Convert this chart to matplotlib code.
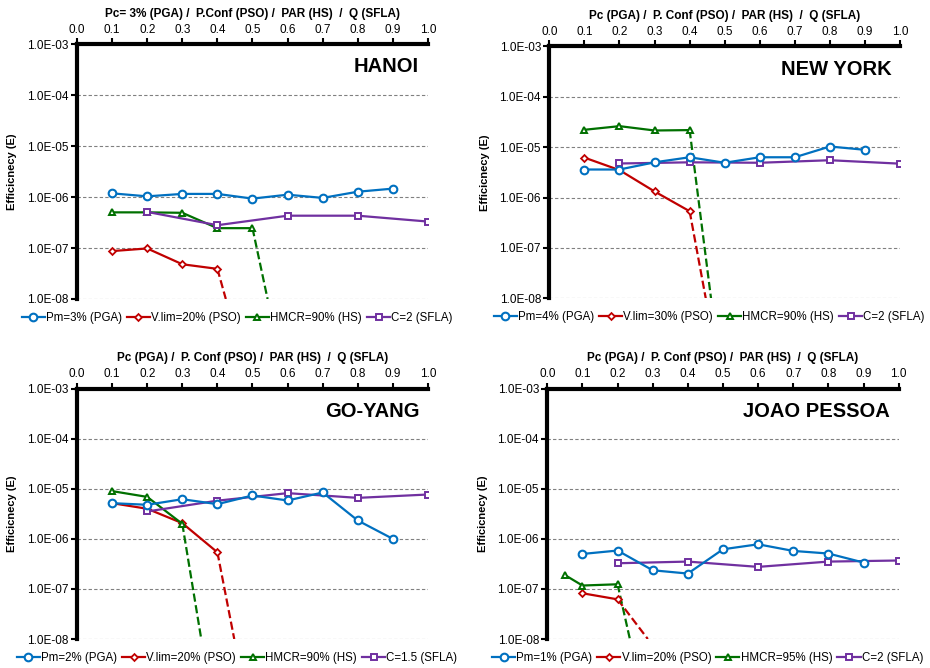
import numpy as np
import matplotlib
matplotlib.use('Agg')
import matplotlib.pyplot as plt
from matplotlib.ticker import NullLocator

plt.rcParams['font.family'] = ['Liberation Sans', 'DejaVu Sans']

# ==========================================
# Data
# ==========================================
x_pga = [0.1, 0.2, 0.3, 0.4, 0.5, 0.6, 0.7, 0.8, 0.9]
x_sfla = [0.2, 0.4, 0.6, 0.8, 1.0]

# HANOI
hanoi_pga = [1.18e-6, 1.03e-6, 1.15e-6, 1.15e-6, 0.93e-6, 1.11e-6, 0.96e-6, 1.27e-6, 1.46e-6]
hanoi_pso_x = [0.1, 0.2, 0.3, 0.4]
hanoi_pso = [0.87e-7, 0.98e-7, 0.48e-7, 0.39e-7]
hanoi_pso_drop = 0.424
hanoi_hs_x = [0.1, 0.2, 0.3, 0.4, 0.5]
hanoi_hs = [0.50e-6, 0.50e-6, 0.49e-6, 0.245e-6, 0.245e-6]
hanoi_hs_drop = 0.543
hanoi_sfla = [0.51e-6, 0.28e-6, 0.43e-6, 0.43e-6, 0.33e-6]

# NEW YORK
ny_pga = [0.36e-5, 0.36e-5, 0.50e-5, 0.63e-5, 0.49e-5, 0.63e-5, 0.63e-5, 1.03e-5, 0.885e-5]
ny_pso_x = [0.1, 0.2, 0.3, 0.4]
ny_pso = [0.62e-5, 0.35e-5, 1.32e-6, 0.535e-6]
ny_pso_drop = 0.446
ny_hs_x = [0.1, 0.2, 0.3, 0.4]
ny_hs = [0.221e-4, 0.261e-4, 0.214e-4, 0.218e-4]
ny_hs_drop = 0.461
ny_sfla = [0.474e-5, 0.50e-5, 0.49e-5, 0.55e-5, 0.47e-5]

# GO-YANG
gy_pga = [0.517e-5, 0.48e-5, 0.62e-5, 0.494e-5, 0.736e-5, 0.585e-5, 0.845e-5, 0.233e-5, 1.0e-6]
gy_pso_x = [0.1, 0.2, 0.3, 0.4]
gy_pso = [0.517e-5, 0.40e-5, 2.06e-6, 0.54e-6]
gy_pso_drop = 0.448
gy_hs_x = [0.1, 0.2, 0.3]
gy_hs = [0.90e-5, 0.69e-5, 2.0e-6]
gy_hs_drop = 0.354
gy_sfla = [0.353e-5, 0.58e-5, 0.82e-5, 0.66e-5, 0.77e-5]

# JOAO PESSOA
jp_pga = [0.50e-6, 0.585e-6, 0.236e-6, 0.203e-6, 0.62e-6, 0.78e-6, 0.575e-6, 0.51e-6, 0.337e-6]
jp_pso_x = [0.1, 0.2]
jp_pso = [0.82e-7, 0.62e-7]
jp_pso_drop = 0.286
jp_hs_x = [0.05, 0.1, 0.2]
jp_hs = [1.9e-7, 1.17e-7, 1.24e-7]
jp_hs_drop = 0.235
jp_sfla = [0.326e-6, 0.352e-6, 0.276e-6, 0.352e-6, 0.37e-6]

x_ticks = [0.0, 0.1, 0.2, 0.3, 0.4, 0.5, 0.6, 0.7, 0.8, 0.9, 1.0]
y_ticks = [1e-8, 1e-7, 1e-6, 1e-5, 1e-4, 1e-3]
y_ticklabels = ['1.0E-08', '1.0E-07', '1.0E-06', '1.0E-05', '1.0E-04', '1.0E-03']

C_PGA = '#0070C0'
C_PSO = '#C00000'
C_HS = '#007000'
C_SFLA = '#7030A0'


def draw_panel(ax, name, top_label, pga, pso_x, pso, pso_drop, hs_x, hs, hs_drop, sfla, labels):
    ax.set_yscale('log')
    ax.plot(x_pga, pga, '-o', color=C_PGA, lw=1.6, ms=5.5, mfc='white', mew=1.5, label=labels[0], zorder=5)
    ax.plot(pso_x, pso, '-D', color=C_PSO, lw=1.6, ms=3.5, mfc='white', mew=1.3, label=labels[1], zorder=4)
    ax.plot([pso_x[-1], pso_drop], [pso[-1], 1e-8], '--', color=C_PSO, lw=1.6, zorder=3)
    ax.plot(hs_x, hs, '-^', color=C_HS, lw=1.6, ms=5, mfc='white', mew=1.4, label=labels[2], zorder=4)
    ax.plot([hs_x[-1], hs_drop], [hs[-1], 1e-8], '--', color=C_HS, lw=1.6, zorder=3)
    ax.plot(x_sfla, sfla, '-s', color=C_SFLA, lw=1.6, ms=5, mfc='white', mew=1.4, label=labels[3], zorder=4)

    ax.set_xlim(0, 1)
    ax.set_ylim(1e-8, 1e-3)
    ax.xaxis.tick_top()
    ax.xaxis.set_label_position('top')
    ax.set_xticks(x_ticks)
    ax.set_xticklabels(['%.1f' % v for v in x_ticks], fontsize=8.5)
    ax.set_yticks(y_ticks)
    ax.set_yticklabels(y_ticklabels, fontsize=8.5)
    ax.yaxis.set_minor_locator(NullLocator())
    ax.tick_params(axis='both', length=4, width=1.5, pad=2)
    ax.set_xlabel(top_label, fontsize=8.5, fontweight='bold', labelpad=5)
    ax.set_ylabel('Efficicnecy (E)', fontsize=8, fontweight='bold', labelpad=7)

    for s in ['right', 'bottom']:
        ax.spines[s].set_visible(False)
    for s in ['left', 'top']:
        ax.spines[s].set_linewidth(3)
    ax.yaxis.grid(True, ls=(0, (3, 2)), color='#808080', lw=0.8)
    ax.set_axisbelow(True)

    ax.text(0.975, 0.91, name, transform=ax.transAxes, ha='right', va='center',
            fontsize=14.5, fontweight='bold')
    ax.legend(loc='center', bbox_to_anchor=(0.456, -0.075), ncol=4, frameon=False,
              fontsize=8.3, handlelength=2.0, handletextpad=0.1, columnspacing=0.45,
              borderaxespad=0, borderpad=0)


fig = plt.figure(figsize=(9.3, 6.68), dpi=100)
ax1 = fig.add_axes([0.0828, 0.5524, 0.3774, 0.3817])
ax2 = fig.add_axes([0.5907, 0.5534, 0.3771, 0.3772])
ax3 = fig.add_axes([0.0828, 0.0434, 0.3774, 0.3747])
ax4 = fig.add_axes([0.5885, 0.0434, 0.3778, 0.3747])

draw_panel(ax1, 'HANOI', 'Pc= 3% (PGA) /  P.Conf (PSO) /  PAR (HS)  /  Q (SFLA)',
           hanoi_pga, hanoi_pso_x, hanoi_pso, hanoi_pso_drop, hanoi_hs_x, hanoi_hs, hanoi_hs_drop, hanoi_sfla,
           ['Pm=3% (PGA)', 'V.lim=20% (PSO)', 'HMCR=90% (HS)', 'C=2 (SFLA)'])
draw_panel(ax2, 'NEW YORK', 'Pc (PGA) /  P. Conf (PSO) /  PAR (HS)  /  Q (SFLA)',
           ny_pga, ny_pso_x, ny_pso, ny_pso_drop, ny_hs_x, ny_hs, ny_hs_drop, ny_sfla,
           ['Pm=4% (PGA)', 'V.lim=30% (PSO)', 'HMCR=90% (HS)', 'C=2 (SFLA)'])
draw_panel(ax3, 'GO-YANG', 'Pc (PGA) /  P. Conf (PSO) /  PAR (HS)  /  Q (SFLA)',
           gy_pga, gy_pso_x, gy_pso, gy_pso_drop, gy_hs_x, gy_hs, gy_hs_drop, gy_sfla,
           ['Pm=2% (PGA)', 'V.lim=20% (PSO)', 'HMCR=90% (HS)', 'C=1.5 (SFLA)'])
draw_panel(ax4, 'JOAO PESSOA', 'Pc (PGA) /  P. Conf (PSO) /  PAR (HS)  /  Q (SFLA)',
           jp_pga, jp_pso_x, jp_pso, jp_pso_drop, jp_hs_x, jp_hs, jp_hs_drop, jp_sfla,
           ['Pm=1% (PGA)', 'V.lim=20% (PSO)', 'HMCR=95% (HS)', 'C=2 (SFLA)'])

plt.savefig('out.png', dpi=100)
